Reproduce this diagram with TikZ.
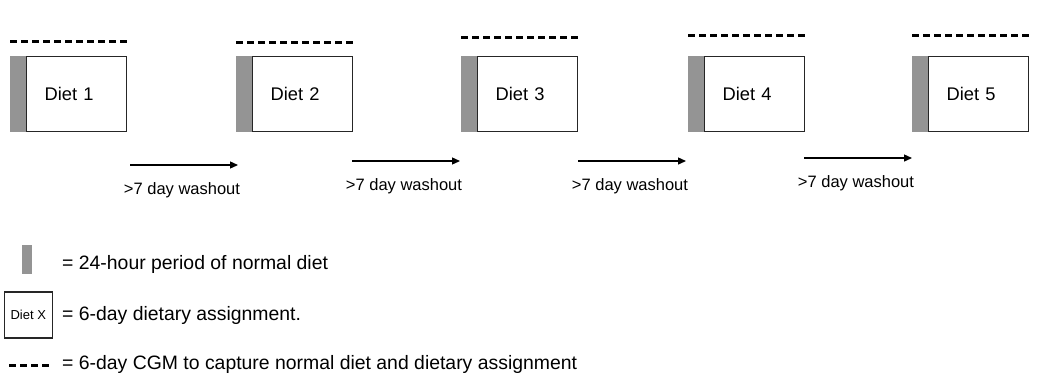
\documentclass[tikz,border=0pt]{standalone}
\usepackage{fontspec}
\setmainfont{Liberation Sans}
\usetikzlibrary{arrows.meta}
\definecolor{normalgray}{RGB}{148,148,148}

\begin{document}
\begin{tikzpicture}[x=1pt, y=-1pt,
    dietbox/.style={draw=black!85, line width=1.3pt, minimum height=75pt,
        inner xsep=18pt, text width=64pt, align=left, font=\fontsize{18.3}{20}\selectfont},
    normalday/.style={fill=normalgray, minimum width=16pt, minimum height=76pt, inner sep=0pt},
    cgmline/.style={line width=3pt, dash pattern=on 7pt off 4pt},
    washarrow/.style={line width=1.3pt, -{Triangle[length=8pt, width=7pt]}},
    keytext/.style={anchor=west, inner sep=0pt, font=\fontsize{19.4}{22}\selectfont}]
    \useasboundingbox (0,0) rectangle (1054,376);

    % diets with normal day and CGM period
    \foreach \i/\x/\dy in {1/26/41, 2/252/42, 3/477/37, 4/704/35, 5/928/35} {
        \node[dietbox, anchor=west] (diet\i) at (\x,94) {Diet \i};
        \node[normalday, anchor=east] (norm\i) at (diet\i.west) {};
        \coordinate (cgm\i) at (\x-16,\dy);
        \draw[cgmline] (cgm\i) -- ++(120,0);
    }

    % washout periods
    \foreach \i/\x/\y in {1/130/165, 2/352/161, 3/578/161, 4/804/158} {
        \coordinate (wstart\i) at (\x,\y);
        \coordinate (wend\i) at (\x+108,\y);
        \draw[washarrow] (wstart\i) -- (wend\i);
        \node[font=\fontsize{16.5}{18}\selectfont] (wlabel\i) at (\x+52,\y+25) {>7 day washout};
    }

    % legend
    \node[normalday, minimum width=9.5pt, minimum height=29pt] (keynorm) at (27,259.5) {};
    \node[keytext] (keynormtxt) at (62,264.5) {= 24-hour period of normal diet};
    \node[draw=black!85, line width=1.1pt, minimum width=48pt, minimum height=46pt,
        inner sep=0pt, font=\fontsize{13}{15}\selectfont] (keydiet) at (28.3,315) {Diet X};
    \node[keytext] (keydiettxt) at (62,315) {= 6-day dietary assignment.};
    \coordinate (keycgm) at (9,365);
    \draw[cgmline] (keycgm) -- ++(40,0);
    \node[keytext] (keycgmtxt) at (62,364.5) {= 6-day CGM to capture normal diet and dietary assignment};
\end{tikzpicture}
\end{document}
